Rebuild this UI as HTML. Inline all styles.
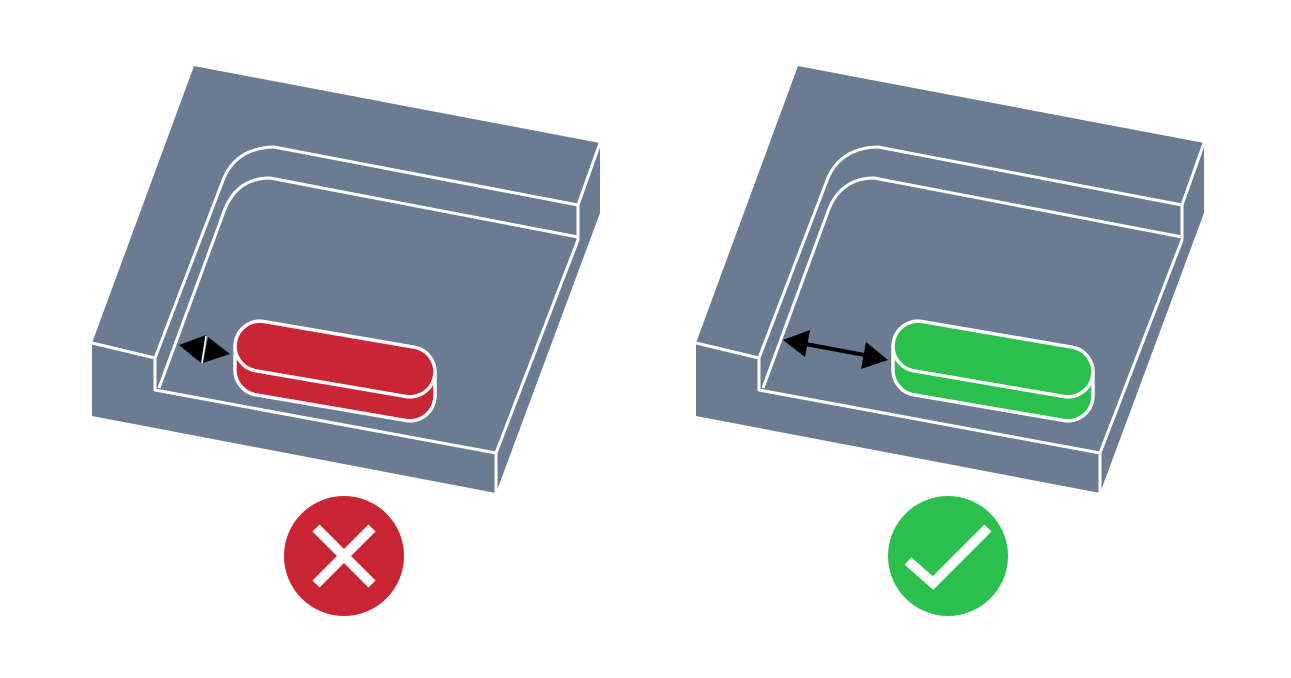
<!DOCTYPE html>
<html><head><meta charset="utf-8"><style>html,body{margin:0;padding:0;background:#fff}svg{display:block}</style></head><body>
<svg width="1291" height="678" viewBox="0 0 1291 678" xmlns="http://www.w3.org/2000/svg">
<defs>
<g id="blk">
  <polygon points="194,66 600,143 600,213 496,493 92,416 92,343" fill="#6b7b91"/>
  <g fill="none" stroke="#fff" stroke-width="3" stroke-linejoin="round">
    <polyline points="92,343 155,358 155,390 496,453 496,493"/>
    <polyline points="496,453 578,240 578,205 600,143"/>
    <path d="M155,358 L222,183 Q234,148 274,147 L578,205"/>
    <path d="M159,388 L222,217 Q234,178 270,178 L578,237"/>
  </g>
</g>
<g id="pill">
  <rect x="-101" y="-25" width="202" height="50" rx="25" transform="translate(335,383) rotate(9.7)" stroke="#fff" stroke-width="3.5"/>
  <polygon points="235,346 235,371 435,397 435,372"/>
  <line x1="235" y1="345" x2="235" y2="371" stroke="#fff" stroke-width="3.5"/>
  <line x1="435" y1="371" x2="435" y2="397" stroke="#fff" stroke-width="3.5"/>
  <rect x="-101" y="-25" width="202" height="50" rx="25" transform="translate(335,359) rotate(9.7)" stroke="#fff" stroke-width="3.5"/>
</g>
</defs>
<use href="#blk"/>
<use href="#blk" transform="translate(604,0)"/>
<use href="#pill" fill="#c92535"/>
<use href="#pill" fill="#2bc04d" transform="translate(658,0)"/>
<!-- left arrow -->
<polygon points="179,345 206,335 201,363" fill="#000"/>
<polygon points="230,354 208,337 203,363" fill="#000"/>
<line x1="206" y1="336" x2="202" y2="363" stroke="#fff" stroke-width="1.5"/>
<!-- right arrow -->
<line x1="800" y1="343" x2="870" y2="356" stroke="#000" stroke-width="4"/>
<polygon points="783,340 810,330 805,357" fill="#000"/>
<polygon points="888,360 861,369 866,342" fill="#000"/>
<!-- icons -->
<circle cx="344" cy="556" r="60" fill="#c92535"/>
<path d="M316,528 L372,584 M372,528 L316,584" stroke="#fff" stroke-width="10"/>
<circle cx="948" cy="556" r="60" fill="#2bc04d"/>
<polyline points="908,561 933,583 988,528" fill="none" stroke="#fff" stroke-width="10"/>
</svg>
</body></html>
